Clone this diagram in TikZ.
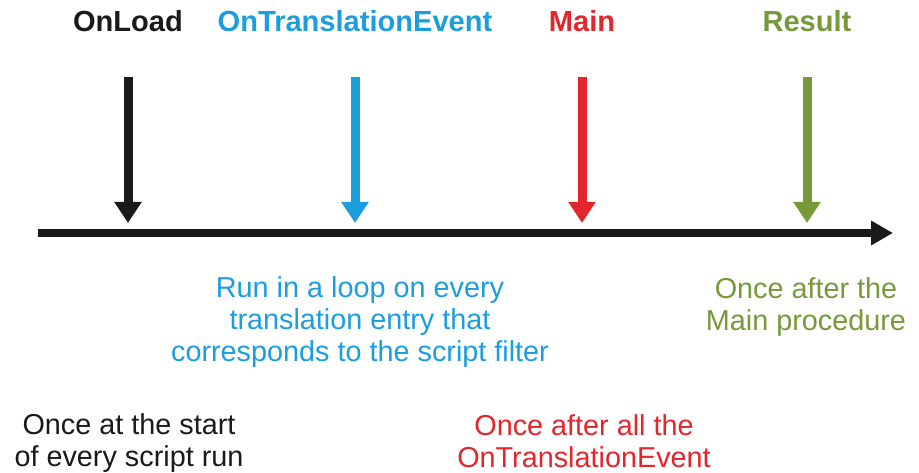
\documentclass[tikz,border=0pt]{standalone}
\usepackage{fontspec}
\setmainfont{Liberation Sans}
\usetikzlibrary{arrows.meta}
\definecolor{evblack}{HTML}{1A1A1A}
\definecolor{evblue}{HTML}{1B9DDE}
\definecolor{evred}{HTML}{E3262B}
\definecolor{evgreen}{HTML}{76993A}
\tikzset{
  evtitle/.style={font=\fontsize{21.8}{24}\selectfont\bfseries, inner sep=0pt, anchor=base},
  evnote/.style={font=\fontsize{21.6}{24}\selectfont, align=center, inner sep=0pt},
  evarrow/.style={line width=6.75pt, -{Triangle[length=15.75pt,width=19.5pt]}},
  timeline/.style={line width=6pt, -{Triangle[length=16.5pt,width=17.5pt]}}
}
\begin{document}
\begin{tikzpicture}[x=0.75pt,y=-0.75pt]
  \useasboundingbox (0,0) rectangle (919,473);

  % time axis
  \coordinate (start) at (38,233);
  \coordinate (end) at (893,233);
  \draw[timeline, evblack] (start) -- (end);

  % events and their arrows
  \foreach \x/\name/\col/\txt in {128/onload/evblack/OnLoad, 355/ontrans/evblue/OnTranslationEvent,
                                  582/main/evred/Main, 807/result/evgreen/Result} {
    \node[evtitle, text=\col] (\name) at (\x,32) {\txt};
    \coordinate (\name-top) at (\x,77);
    \coordinate (\name-tip) at (\x,223);
    \draw[evarrow, \col] (\name-top) -- (\name-tip);
  }

  % when each one runs
  \node[evnote, text=evblue] (loopnote) at (360,322) {Run in a loop on every\\translation entry that\\corresponds to the script filter};
  \node[evnote, text=evgreen] (resultnote) at (806,307) {Once after the\\Main procedure};
  \node[evnote, text=evblack] (loadnote) at (129,443) {Once at the start\\of every script run};
  \node[evnote, text=evred] (mainnote) at (584,441) {Once after all the\\OnTranslationEvent};
\end{tikzpicture}
\end{document}
